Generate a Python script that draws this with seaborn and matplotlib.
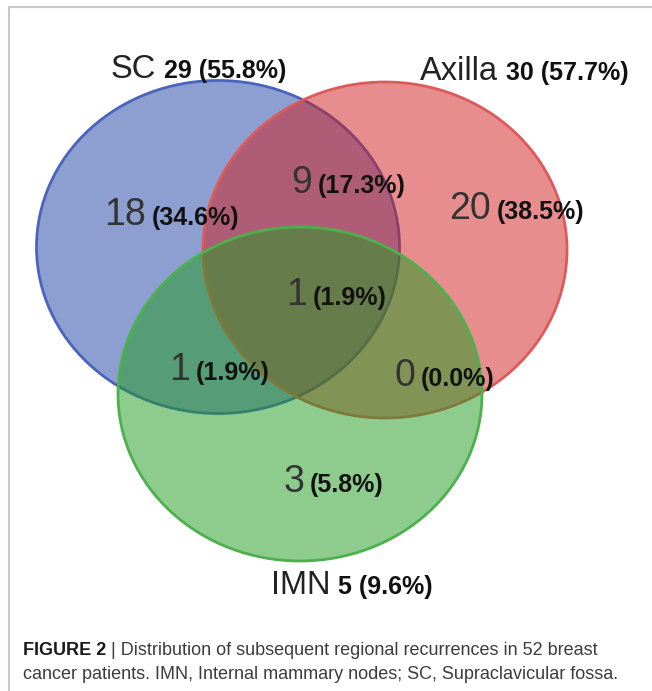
import matplotlib
matplotlib.use("Agg")
import matplotlib.pyplot as plt
from matplotlib import font_manager
from matplotlib.patches import Ellipse
from matplotlib.lines import Line2D
import seaborn as sns

# data
n_patients = 52
set_names = ["SC", "Axilla", "IMN"]
set_totals = [29, 30, 5]
region_names = ["SC only", "SC & Axilla", "Axilla only", "SC & Axilla & IMN",
                "SC & IMN", "Axilla & IMN", "IMN only"]
region_counts = [18, 9, 20, 1, 1, 0, 3]
caption_bold = "FIGURE 2"
caption_lines = [" | Distribution of subsequent regional recurrences in 52 breast",
                 "cancer patients. IMN, Internal mammary nodes; SC, Supraclavicular fossa."]

# layout (pixel space)
set_colors = ["#1d41a5", "#d11d1d", "#1f9b1f"]
edge_colors = ["#4a63bd", "#dd5a5a", "#4cb04c"]
ellipses = [(218, 247, 363, 333), (385, 250, 364, 336), (300, 394, 364, 334)]
set_label_pos = [(160, 78), (502, 80), (334, 594)]
region_label_pos = [(149, 225), (315, 193), (494, 219), (310, 305),
                    (193, 380), (418, 386), (307, 492)]

sns.set_theme(style="white")
installed = {f.name for f in font_manager.fontManager.ttflist}
if "Liberation Sans Narrow" in installed:
    pct_font, pct_size = "Liberation Sans Narrow", 22
else:
    pct_font, pct_size = "Liberation Sans", 18

fig = plt.figure(figsize=(6.52, 6.91), dpi=100)
ax = fig.add_axes([0, 0, 1, 1])
ax.set_xlim(0, 652)
ax.set_ylim(691, 0)
ax.axis("off")

for (cx, cy, w, h), fc, ec in zip(ellipses, set_colors, edge_colors):
    ax.add_patch(Ellipse((cx, cy), w, h, facecolor=matplotlib.colors.to_rgba(fc, 0.5),
                         edgecolor=ec, linewidth=2))

num_kw = dict(family="Liberation Sans", fontsize=27, color="#333333", va="baseline")
pct_kw = dict(family=pct_font, fontsize=pct_size, fontweight="bold", color="#111111",
              va="baseline")

for (x, y), c in zip(region_label_pos, region_counts):
    ax.text(x - 3, y, str(c), ha="right", **num_kw)
    ax.text(x + 3, y, f"({c / n_patients * 100:.1f}%)", ha="left", **pct_kw)

for (x, y), name, tot in zip(set_label_pos, set_names, set_totals):
    ax.text(x - 4, y, name, ha="right", family="Liberation Sans", fontsize=23.5,
            color="#222222", va="baseline")
    ax.text(x + 4, y, f"{tot} ({tot / n_patients * 100:.1f}%)", ha="left", **pct_kw)

# frame
fig.add_artist(Line2D([9 / 652, 1], [1 - 7 / 691] * 2, color="#c8c8c8", lw=1.5))
fig.add_artist(Line2D([9 / 652] * 2, [0, 1 - 7 / 691], color="#c8c8c8", lw=1.5))

# caption
cap_kw = dict(family="Liberation Sans", fontsize=13, va="baseline")
t = ax.text(23, 655, caption_bold, fontweight="bold", color="#1a1a1a", **cap_kw)
fig.canvas.draw()
bb = t.get_window_extent().transformed(ax.transData.inverted())
ax.text(bb.x1, 655, caption_lines[0], color="#3c3c3c", **cap_kw)
ax.text(23, 679, caption_lines[1], color="#3c3c3c", **cap_kw)

fig.savefig("out.png", dpi=100)
